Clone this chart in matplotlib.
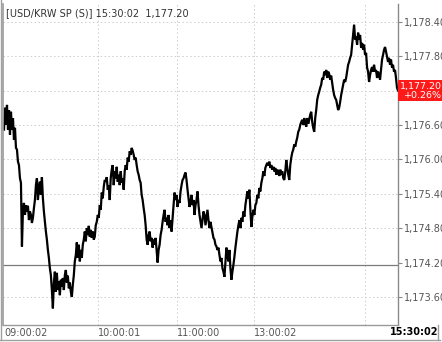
import numpy as np
import matplotlib
matplotlib.use('Agg')
import matplotlib.pyplot as plt
from matplotlib.patches import Rectangle

# USD/KRW spot, tick-by-tick (index based x axis)
prices = [
    1176.52, 1176.90, 1176.60, 1176.95, 1176.52, 1176.86, 1176.43, 1176.83, 1176.52, 1176.72,
    1176.34, 1176.55, 1176.20, 1176.17, 1175.96, 1175.90, 1175.67, 1175.59, 1174.48, 1175.12,
    1175.24, 1175.03, 1175.20, 1175.09, 1175.19, 1174.94, 1175.09, 1175.03, 1174.89, 1174.98,
    1175.15, 1175.29, 1175.55, 1175.67, 1175.29, 1175.50, 1175.61, 1175.38, 1175.69, 1175.32,
    1175.09, 1174.91, 1174.74, 1174.60, 1174.42, 1174.28, 1174.10, 1173.98, 1173.72, 1173.40,
    1173.85, 1174.04, 1173.69, 1174.02, 1173.72, 1173.87, 1173.63, 1173.90, 1173.78, 1173.93,
    1173.72, 1173.98, 1174.07, 1173.85, 1173.97, 1173.75, 1173.85, 1173.69, 1173.60, 1173.81,
    1173.98, 1174.22, 1174.33, 1174.55, 1174.28, 1174.51, 1174.22, 1174.42, 1174.28, 1174.51,
    1174.60, 1174.74, 1174.57, 1174.80, 1174.68, 1174.84, 1174.65, 1174.77, 1174.63, 1174.74,
    1174.60, 1174.65, 1174.85, 1174.91, 1175.03, 1174.98, 1175.20, 1175.12, 1175.42, 1175.32,
    1175.52, 1175.64, 1175.61, 1175.69, 1175.47, 1175.55, 1175.29, 1175.67, 1175.82, 1175.90,
    1175.55, 1175.79, 1175.67, 1175.87, 1175.61, 1175.73, 1175.55, 1175.79, 1175.59, 1175.67,
    1175.47, 1175.79, 1175.90, 1175.82, 1176.03, 1175.96, 1176.14, 1176.08, 1176.20, 1176.15,
    1176.08, 1175.99, 1176.03, 1175.90, 1175.79, 1175.73, 1175.64, 1175.59, 1175.38, 1175.29,
    1175.15, 1175.03, 1174.85, 1174.60, 1174.51, 1174.68, 1174.74, 1174.57, 1174.63, 1174.46,
    1174.60, 1174.51, 1174.63, 1174.42, 1174.20, 1174.42, 1174.51, 1174.68, 1174.77, 1174.91,
    1175.03, 1175.12, 1174.91, 1174.98, 1174.85, 1175.03, 1174.80, 1174.94, 1174.74, 1174.98,
    1175.20, 1175.42, 1175.29, 1175.38, 1175.17, 1175.29, 1175.24, 1175.44, 1175.55, 1175.64,
    1175.67, 1175.73, 1175.77, 1175.64, 1175.47, 1175.32, 1175.17, 1175.26, 1175.38, 1175.20,
    1175.29, 1175.03, 1175.20, 1175.29, 1175.44, 1175.20, 1175.03, 1174.91, 1174.80, 1174.94,
    1175.09, 1175.03, 1174.85, 1174.98, 1175.12, 1174.94, 1174.80, 1174.91, 1174.82, 1174.74,
    1174.63, 1174.60, 1174.51, 1174.48, 1174.42, 1174.46, 1174.33, 1174.22, 1174.28, 1174.10,
    1174.04, 1173.95, 1174.22, 1174.46, 1174.33, 1174.22, 1174.42, 1174.10, 1173.90, 1174.04,
    1174.16, 1174.30, 1174.46, 1174.60, 1174.74, 1174.85, 1174.94, 1174.80, 1174.98, 1174.91,
    1175.09, 1175.00, 1175.20, 1175.32, 1175.44, 1175.32, 1175.47, 1175.12, 1174.82, 1175.00,
    1175.12, 1175.03, 1175.20, 1175.24, 1175.38, 1175.32, 1175.50, 1175.44, 1175.59, 1175.67,
    1175.79, 1175.71, 1175.85, 1175.90, 1175.94, 1175.89, 1175.96, 1175.85, 1175.90, 1175.82,
    1175.87, 1175.79, 1175.85, 1175.73, 1175.82, 1175.79, 1175.71, 1175.82, 1175.73, 1175.79,
    1175.67, 1175.64, 1175.79, 1175.99, 1175.85, 1175.73, 1175.64, 1175.90, 1176.03, 1176.12,
    1176.17, 1176.26, 1176.22, 1176.31, 1176.38, 1176.48, 1176.52, 1176.60, 1176.65, 1176.69,
    1176.60, 1176.72, 1176.64, 1176.57, 1176.72, 1176.62, 1176.69, 1176.78, 1176.83, 1176.65,
    1176.55, 1176.48, 1176.72, 1176.86, 1177.04, 1177.12, 1177.18, 1177.25, 1177.30, 1177.42,
    1177.39, 1177.53, 1177.47, 1177.56, 1177.42, 1177.53, 1177.49, 1177.39, 1177.46, 1177.34,
    1177.21, 1177.12, 1177.07, 1177.04, 1176.95, 1176.86, 1176.90, 1177.00, 1177.12, 1177.21,
    1177.30, 1177.39, 1177.35, 1177.42, 1177.53, 1177.65, 1177.70, 1177.77, 1177.82, 1178.00,
    1178.17, 1178.35, 1178.09, 1178.14, 1178.00, 1178.21, 1178.09, 1178.17, 1177.95, 1178.03,
    1177.91, 1178.00, 1177.82, 1177.86, 1177.60, 1177.53, 1177.35, 1177.47, 1177.56, 1177.61,
    1177.53, 1177.65, 1177.53, 1177.56, 1177.42, 1177.53, 1177.47, 1177.39, 1177.56, 1177.74,
    1177.82, 1177.91, 1177.96, 1177.88, 1177.79, 1177.70, 1177.77, 1177.65, 1177.74, 1177.60,
    1177.65, 1177.53, 1177.56, 1177.42, 1177.25, 1177.20,
]
prev_close = 1174.15
last_price = 1177.20
change_pct = '+0.26%'

y_ticks = [1173.60, 1174.20, 1174.80, 1175.40, 1176.00, 1176.60, 1177.20, 1177.80, 1178.40]
x_tick_pos = [0, 94, 173, 251]
x_tick_labels = ['09:00:02', '10:00:01', '11:00:00', '13:00:02']
x_grid = [94, 173, 251, 362]
last_time = '15:30:02'
title = '[USD/KRW SP (S)] 15:30:02  1,177.20'

W, H = 442, 342
fig = plt.figure(figsize=(W / 100, H / 100), dpi=100)
fig.patch.set_facecolor('white')

def fx(px):
    return px / W

def fy(py):
    return 1 - py / H

ax = fig.add_axes([fx(3), fy(325), fx(398) - fx(3), fy(4) - fy(325)])
x = np.arange(len(prices))
ax.plot(x, prices, color='black', lw=1.6, solid_joinstyle='miter')
ax.set_xlim(-1, len(prices) - 1)
ax.set_ylim(1173.11, 1178.71)

# grid
for v in y_ticks:
    if abs(v - 1174.20) > 1e-6:
        ax.axhline(v, color='#cccccc', lw=0.7, ls=(0, (1.5, 2.5)), zorder=0)
for v in x_grid:
    ax.axvline(v, color='#cccccc', lw=0.7, ls=(0, (1.5, 2.5)), zorder=0)
ax.axhline(prev_close, color='#7a7a7a', lw=0.9, zorder=1)

# y axis on right (the last price label is covered by the red box)
ax.yaxis.tick_right()
ax.set_yticks(y_ticks)
ax.set_yticklabels(['' if abs(v - last_price) < 1e-6 else f'{v:,.2f}' for v in y_ticks],
                   fontsize=7, color='#555555')
ax.tick_params(axis='y', length=3, width=0.8, color='#888888', pad=1)

# x axis labels
ax.set_xticks(x_tick_pos)
ax.set_xticklabels(x_tick_labels, fontsize=7, color='#555555', ha='left')
ax.tick_params(axis='x', length=0, pad=2)

ax.spines['top'].set_visible(False)
ax.spines['left'].set_color('#9a9a9a')
ax.spines['left'].set_linewidth(1.2)
ax.spines['bottom'].set_color('#9a9a9a')
ax.spines['right'].set_color('#8a8a8a')
ax.spines['bottom'].set_linewidth(1.0)
ax.spines['right'].set_linewidth(1.0)

# title
fig.text(fx(6), fy(13), title, fontsize=7, color='#333333', va='center', ha='left')

# last price box
fig.patches.append(Rectangle((fx(398), fy(101)), fx(442) - fx(398), fy(80) - fy(101),
                             transform=fig.transFigure, facecolor='#ff1a1a', edgecolor='none'))
fig.text(fx(400), fy(86), f'{last_price:,.2f}', fontsize=6.8, color='white', va='center', ha='left')
fig.text(fx(404), fy(96), change_pct, fontsize=6.8, color='white', va='center', ha='left')

# last time label
fig.text(fx(438), fy(332), last_time, fontsize=7, color='black', va='center', ha='right',
         fontweight='bold')

# window frame
frame = dict(transform=fig.transFigure, color='#a0a0a0', lw=1.0)
fig.add_artist(plt.Line2D([fx(1), fx(1)], [fy(0), fy(340)], **frame))
fig.add_artist(plt.Line2D([fx(0), fx(440)], [fy(339.5), fy(339.5)], **frame))
fig.add_artist(plt.Line2D([fx(438), fx(438)], [fy(325), fy(340)], **frame))

fig.savefig('out.png', dpi=100)
